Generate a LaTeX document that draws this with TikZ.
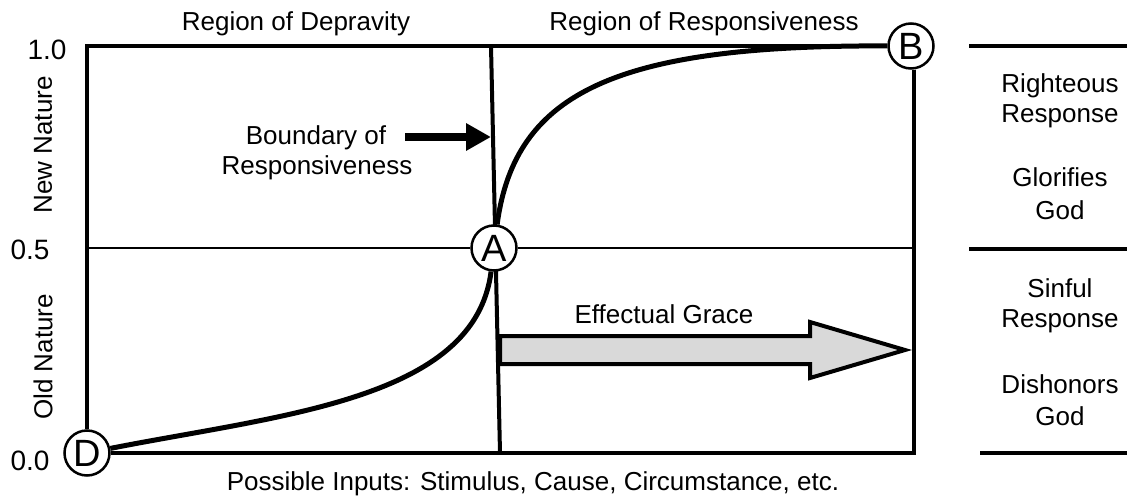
\documentclass[tikz,border=0pt]{standalone}
\usepackage{fontspec}
\setmainfont{Liberation Sans}
\usetikzlibrary{arrows.meta}
\definecolor{grace gray}{rgb}{0.851, 0.851, 0.851}

\begin{document}
\begin{tikzpicture}[x=1pt, y=-1pt,
		every node/.style={font=\fontsize{26}{30}\selectfont},
		txt/.style={anchor=base},
		num/.style={anchor=base, font=\fontsize{28}{32}\selectfont},
		pt/.style={circle, draw, line width=2.5pt, fill=white, inner sep=0pt,
			minimum size=45pt, font=\fontsize{38}{42}\selectfont}]
	\useasboundingbox (0,0) rectangle (1127,497);
	% corners of the plot and the boundary
	\coordinate (tl) at (87,46);
	\coordinate (br) at (914,453);
	\coordinate (bt) at (491,46);
	\coordinate (bb) at (500,453);
	% boundary of responsiveness (behind A)
	\draw[line width=4pt] (bt) -- (bb);
	% the three points
	\node[pt] (D) at (87,453) {D};
	\node[pt] (A) at (494,248) {A};
	\node[pt] (B) at (911,46) {B};
	% outline
	\draw[line width=4.5pt]
		(D.north) -- (tl) -- (B.west)
		(br |- B.south) -- (br) -- (D.east);
	\draw[line width=1.2pt]
		(tl |- A) -- (A.west)
		(A.east) -- (br |- A);
	% response curve
	\draw[line width=5pt] (D) .. controls (280,415) and (475,400) .. (A);
	\draw[line width=5pt] (A) .. controls (515,90) and (620,45) .. (B);
	% effectual grace
	\filldraw[fill=grace gray, line width=4pt, line join=miter]
		(500,336) -- (810,336) -- (810,322) -- (905,350) -- (810,378)
		-- (810,364) -- (500,364) -- cycle;
	\node[txt] (grace) at (664,323) {Effectual Grace};
	% labels
	\node[txt] (dep) at (296,31) {Region of Depravity};
	\node[txt] (resp) at (704,31) {Region of Responsiveness};
	\node[txt] (bnd1) at (316,145) {Boundary of};
	\node[txt] (bnd2) at (317,175) {Responsiveness};
	\coordinate (bs) at (405,137);
	\coordinate (btip) at (491,137);
	\draw[line width=8pt, -{Triangle[length=25pt, width=26pt]}] (bs) -- (btip);
	\node[txt] (inputs) at (533,490) {Possible Inputs: Stimulus, Cause, Circumstance, etc.};
	% axis
	\node[num] (y10) at (47,60) {1.0};
	\node[num] (y05) at (30,259) {0.5};
	\node[num] (y00) at (30,470) {0.0};
	\node[rotate=90] (new) at (43,145) {New Nature};
	\node[rotate=90] (old) at (43,357) {Old Nature};
	% right hand column
	\draw[line width=4pt]
		(969,46) -- (1127,46)
		(969,249) -- (1127,249)
		(980,453) -- (1127,453);
	\foreach \t/\y in {Righteous/93, Response/123, Glorifies/187, God/220,
		Sinful/297, Response/327, Dishonors/393, God/425}
		\node[txt] (r\y) at (1060,\y) {\t};
\end{tikzpicture}
\end{document}
